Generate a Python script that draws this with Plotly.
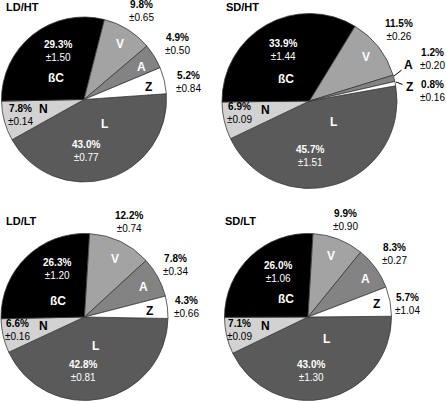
import plotly.graph_objects as go

W, H = 446, 402

categories = ["L", "N", "ßC", "V", "A", "Z"]
panels = ["LD/HT", "SD/HT", "LD/LT", "SD/LT"]
values = {
    "LD/HT": [43.0, 7.8, 29.3, 9.8, 4.9, 5.2],
    "SD/HT": [45.7, 6.9, 33.9, 11.5, 1.2, 0.8],
    "LD/LT": [42.8, 6.6, 26.3, 12.2, 7.8, 4.3],
    "SD/LT": [43.0, 7.1, 26.0, 9.9, 8.3, 5.7],
}
errors = {
    "LD/HT": [0.77, 0.14, 1.50, 0.65, 0.50, 0.84],
    "SD/HT": [1.51, 0.09, 1.44, 0.26, 0.20, 0.16],
    "LD/LT": [0.81, 0.16, 1.20, 0.74, 0.34, 0.66],
    "SD/LT": [1.30, 0.09, 1.06, 0.90, 0.27, 1.04],
}

# ---- styling / layout (pixel geometry) ----
colors = ["#5a5a5a", "#d2d2d2", "#000000", "#a3a3a3", "#838383", "#ffffff"]
letter_col = {"L": "white", "N": "black", "ßC": "white", "V": "white", "A": "white", "Z": "black"}
letter_col_override = {("SD/HT", "A"): "black"}
val_col = {"L": "white", "N": "black", "ßC": "white", "V": "black", "A": "black", "Z": "black"}

geom = {  # center x, center y, radius, rotation
    "LD/HT": (84, 99.5, 82.5, 86),
    "SD/HT": (309.5, 101, 87.5, 80),
    "LD/LT": (84.5, 317, 83.5, 91),
    "SD/LT": (308, 317, 83.5, 89.5),
}
title_pos = {"LD/HT": (4, 7), "SD/HT": (224, 7), "LD/LT": (4, 221), "SD/LT": (223, 221)}
letter_pos = {
    "LD/HT": {"L": (104, 124), "N": (43, 109), "ßC": (56, 78), "V": (120, 44), "A": (141, 67), "Z": (148, 87)},
    "SD/HT": {"L": (333, 122), "N": (265, 110), "ßC": (286, 79), "V": (366, 57), "A": (408, 65), "Z": (409, 87)},
    "LD/LT": {"L": (95, 346), "N": (43, 326), "ßC": (58, 301), "V": (115, 259), "A": (143, 287), "Z": (149, 311)},
    "SD/LT": {"L": (326, 339), "N": (265, 326), "ßC": (286, 299), "V": (331, 256), "A": (365, 279), "Z": (376, 304)},
}
value_pos = {
    "LD/HT": {"L": (86, 151), "N": (20, 115), "ßC": (58, 50.5), "V": (141, 11.5), "A": (177, 44.5), "Z": (188, 81.5)},
    "SD/HT": {"L": (310, 155.5), "N": (239, 113), "ßC": (283, 50), "V": (399, 30), "A": (432, 59.5), "Z": (432, 90.5)},
    "LD/LT": {"L": (83, 371), "N": (17, 330), "ßC": (57, 268.5), "V": (129, 222.5), "A": (175, 264.5), "Z": (186, 306.5)},
    "SD/LT": {"L": (311, 371), "N": (239, 330), "ßC": (278, 271.5), "V": (345, 220), "A": (394, 253.5), "Z": (407, 304)},
}

FONT = "Liberation Sans, Arial, sans-serif"


def px(x):
    return x / W


def py(y):
    return 1 - y / H


fig = go.Figure()
ann = []
for p in panels:
    cx, cy, r, rot = geom[p]
    fig.add_trace(go.Pie(
        labels=categories, values=values[p], sort=False, direction="clockwise",
        rotation=rot, textinfo="none", hoverinfo="label+percent",
        marker=dict(colors=colors, line=dict(color="#3a3a3a", width=0.8)),
        domain=dict(x=[px(cx - r), px(cx + r)], y=[py(cy + r), py(cy - r)]),
        showlegend=False,
    ))
    tx, ty = title_pos[p]
    ann.append(dict(x=px(tx), y=py(ty), text=f"<b>{p}</b>", xanchor="left", yanchor="middle",
                    font=dict(size=11, color="black")))
    for i, c in enumerate(categories):
        lx, ly = letter_pos[p][c]
        col = letter_col_override.get((p, c), letter_col[c])
        ann.append(dict(x=px(lx), y=py(ly), text=f"<b>{c}</b>", xanchor="center", yanchor="middle",
                        font=dict(size=12, color=col)))
        vx, vy = value_pos[p][c]
        ann.append(dict(x=px(vx), y=py(vy), text=f"<b>{values[p][i]:.1f}%</b><br>±{errors[p][i]:.2f}",
                        xanchor="center", yanchor="middle", align="center",
                        font=dict(size=10, color=val_col[c])))

# leader lines for the thin slices in SD/HT
ann.append(dict(x=px(394), y=py(76), ax=9, ay=-7, text="", showarrow=True, arrowhead=0,
                arrowwidth=1, arrowcolor="black"))
ann.append(dict(x=px(396), y=py(82), ax=8, ay=3, text="", showarrow=True, arrowhead=0,
                arrowwidth=1, arrowcolor="black"))

for a in ann:
    a.setdefault("showarrow", False)
    a["xref"] = "paper"
    a["yref"] = "paper"

fig.update_layout(
    width=W, height=H, margin=dict(l=0, r=0, t=0, b=0),
    paper_bgcolor="white", plot_bgcolor="white",
    font=dict(family=FONT, size=10, color="black"),
    annotations=ann,
)
fig.write_html("out.html", config={"displayModeBar": False},
               post_script="document.body.style.margin='0';")
